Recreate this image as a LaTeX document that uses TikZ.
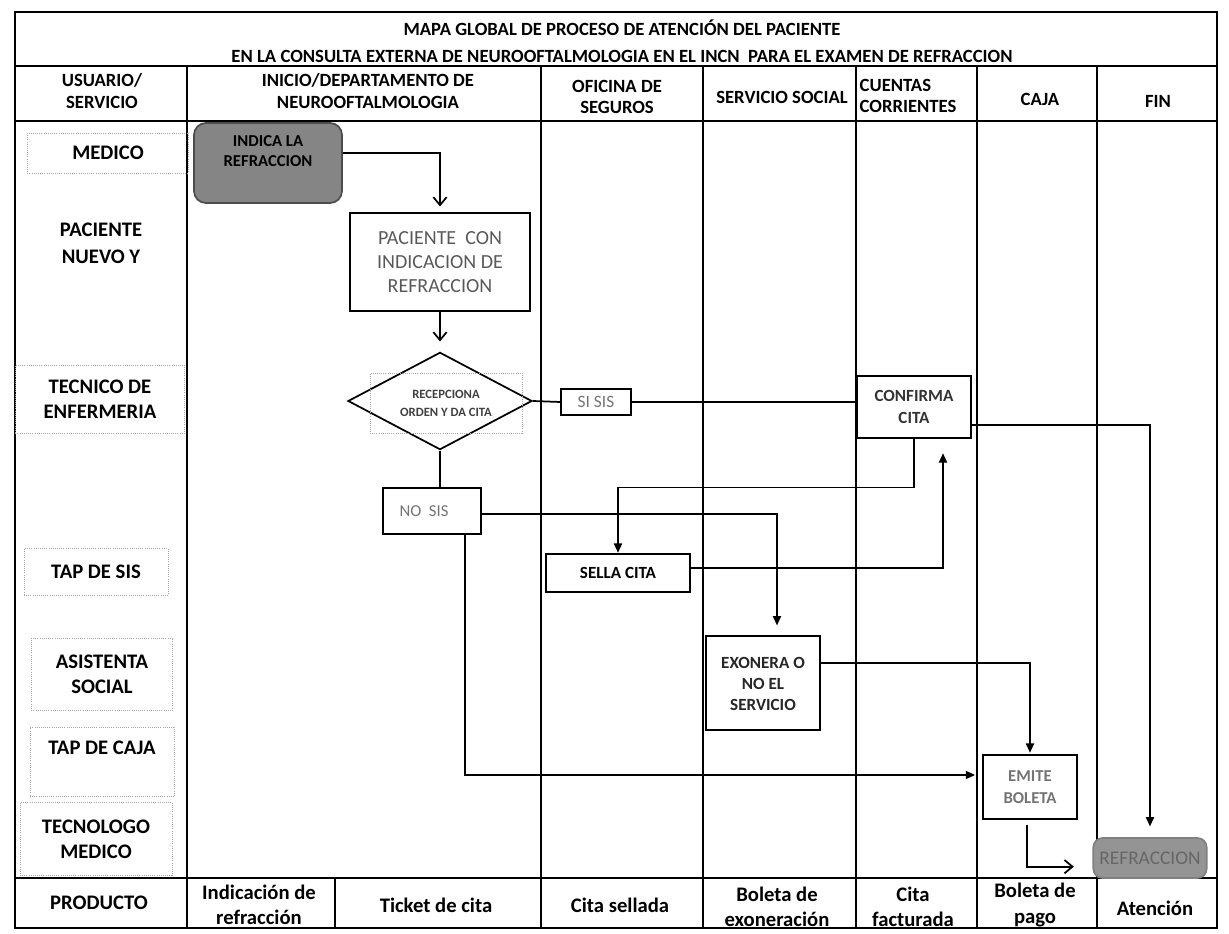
\documentclass[tikz,border=0pt]{standalone}
\usepackage{fontspec}
\setmainfont{Carlito}
\usetikzlibrary{positioning, arrows.meta, shapes.geometric}

\begin{document}
\begin{tikzpicture}[x=0.75pt, y=-0.75pt,
    lane/.style={line width=1.6pt},
    flow/.style={line width=1.3pt},
    filltip/.style={-{Triangle[length=7pt, width=6pt]}},
    opentip/.style={-{Straight Barb[length=6pt, width=10pt]}},
    head/.style={font=\fontsize{14}{16}\selectfont\bfseries, align=center},
    actor/.style={draw=gray!70, densely dotted, line width=0.6pt,
      font=\fontsize{15.5}{19}\selectfont\bfseries, align=center},
    task/.style={rectangle, draw, line width=1.3pt, align=center,
      font=\fontsize{12.8}{16}\selectfont\bfseries},
    prod/.style={font=\fontsize{15.5}{19}\selectfont\bfseries, align=center}]

  \useasboundingbox (0,0) rectangle (1229,934);

  % frame and lanes
  \draw[lane] (15,12) rectangle (1217,928);
  \draw[lane] (15,66) -- (1217,66);
  \draw[lane] (15,121) -- (1217,121);
  \draw[lane] (15,878) -- (1217,878);
  \foreach \lx in {187,541,703,856,977,1097}
    \draw[lane] (\lx,66) -- (\lx,928);
  \draw[lane] (335,878) -- (335,928);

  % title and lane heads
  \node[head, font=\fontsize{14}{20.25}\selectfont\bfseries] (titulo) at (622,41)
  {MAPA GLOBAL DE PROCESO DE ATENCIÓN DEL PACIENTE\\
   EN LA CONSULTA EXTERNA DE NEUROOFTALMOLOGIA EN EL INCN\ \ PARA EL EXAMEN DE REFRACCION};

  \node[head] (usuario) at (102,91) {USUARIO/\\SERVICIO};
  \node[head] (inicio) at (368,91) {INICIO/DEPARTAMENTO DE\\NEUROOFTALMOLOGIA};
  \node[head] (seguros) at (617,97) {OFICINA DE\\SEGUROS};
  \node[head] (social) at (782,97) {SERVICIO SOCIAL};
  \node[head, align=left, anchor=west] (cuentas) at (855,96) {CUENTAS\\CORRIENTES};
  \node[head] (caja) at (1040,99) {CAJA};
  \node[head] (fin) at (1158,101) {FIN};

  % users
  \node[actor, minimum width=121pt, minimum height=30pt] (medico) at (108,153) {MEDICO};
  \node[font=\fontsize{15.5}{20}\selectfont\bfseries, align=center] (nuevo) at (101,243)
  {PACIENTE\\NUEVO Y};
  \node[actor, minimum width=127pt, minimum height=51pt] (tecnico) at (100,399)
  {TECNICO DE\\ENFERMERIA};
  \node[actor, minimum width=108pt, minimum height=35pt] (tapsis) at (96,572) {TAP DE SIS};
  \node[actor, minimum width=106pt, minimum height=54pt] (asistenta) at (102,674)
  {ASISTENTA\\SOCIAL};
  \node[actor, minimum width=108pt, minimum height=52pt] (tapcaja) at (102,762)
  {\begin{tabular}{c} TAP DE CAJA \\ \phantom{X} \end{tabular}};
  \node[actor, minimum width=114pt, minimum height=55pt] (tecnologo) at (96,839)
  {TECNOLOGO\\MEDICO};

  % process
  \node[task, fill=black!48, draw=black!70, rounded corners=9pt,
        minimum width=111pt, minimum height=60pt,
        font=\fontsize{12.5}{15}\selectfont\bfseries] (indica) at (268,163)
  {\begin{tabular}{c} INDICA LA \\ REFRACCION \\ \phantom{X} \end{tabular}};

  \node[task, minimum width=135pt, minimum height=73pt, text=black!65,
        font=\fontsize{15}{18}\selectfont] (paciente) at (440,262)
  {PACIENTE\ \ CON\\INDICACION DE\\REFRACCION};

  \node[diamond, draw, line width=1.3pt, minimum width=138pt, minimum height=73pt,
        inner sep=0pt] (recep) at (440,401) {};
  \node[draw=gray!70, densely dotted, line width=0.6pt, minimum width=114pt,
        minimum height=45pt, align=center, text=black!75,
        font=\fontsize{9.5}{13.5}\selectfont\bfseries] (recepcion) at (446,403)
  {RECEPCIONA\\ORDEN Y DA CITA};

  \node[task, minimum width=52pt, minimum height=20pt, text=black!55,
        font=\fontsize{13}{14}\selectfont] (sisis) at (596,402) {SI SIS};

  \node[task, minimum width=86pt, minimum height=46pt, text=black!80] (confirma) at (914,407)
  {CONFIRMA\\CITA};

  \node[task, minimum width=74pt, minimum height=35pt, text=black!55,
        font=\fontsize{12.5}{14}\selectfont] (nosis) at (432,511)
  {NO\ \ SIS\hspace{12pt}};

  \node[task, minimum width=108pt, minimum height=29pt] (sella) at (618,573) {SELLA CITA};

  \node[task, minimum width=85.5pt, minimum height=70pt, text=black!85,
        font=\fontsize{12.8}{15.75}\selectfont\bfseries] (exonera) at (763,683)
  {\begin{tabular}{c} EXONERA O \\ NO EL \\ SERVICIO \\[-4pt] \end{tabular}};

  \node[task, minimum width=71pt, minimum height=48pt, text=black!55,
        font=\fontsize{12.5}{16}\selectfont\bfseries] (emite) at (1030,787)
  {EMITE\\BOLETA};

  \node[task, fill=black!42, draw=black!50, rounded corners=7pt, minimum width=85pt,
        minimum height=30pt, text=black!60, font=\fontsize{14.5}{15}\selectfont]
  (refraccion) at (1150,858) {REFRACCION};

  % connectors
  \draw[flow, opentip, shorten >=4.5pt] ([yshift=7.5pt]indica.east) -| (paciente.north);
  \draw[flow, opentip, shorten >=7.5pt] (paciente.south) -- (recep.north);
  \draw[flow] (recep.east) -- (sisis.west);
  \draw[flow] (sisis.east) -- (sisis.east -| confirma.west);
  \draw[flow] (recep.south) -- (recep.south |- nosis.north);
  \draw[flow, filltip, shorten >=7.5pt] ([yshift=-2pt]nosis.east) -| ([xshift=10.5pt]exonera.north);
  \draw[flow, filltip, shorten >=5pt] ([xshift=24.75pt]nosis.south) |- ([yshift=9pt]emite.west);
  \draw[flow, filltip] (confirma.south) -- ++(0,49) -| (sella.north);
  \draw[flow, filltip, shorten >=11pt] ([yshift=3.75pt]sella.east) -| ([xshift=21.75pt]confirma.south);
  \draw[flow, filltip, shorten >=1pt] ([yshift=15pt]exonera.east) -| (emite.north);
  \draw[flow, opentip, shorten <=4pt, shorten >=14pt] ([xshift=-2pt]emite.south) |- ([yshift=-6.5pt]refraccion.west);
  \draw[flow, filltip, shorten >=8pt] ([yshift=-13.5pt]confirma.east) -| (refraccion.north);

  % products
  \node[prod] (producto) at (99,903) {PRODUCTO};
  \node[prod] (pindica) at (259,905) {Indicación de\\refracción};
  \node[prod] (pticket) at (436,905) {Ticket de cita};
  \node[prod] (psella) at (620,905) {Cita sellada};
  \node[prod] (pexonera) at (777,907) {Boleta de\\exoneración};
  \node[prod] (pfactura) at (913,907) {Cita\\facturada};
  \node[prod] (ppago) at (1035,905) {Boleta de\\pago};
  \node[prod] (patencion) at (1155,908) {Atención};
\end{tikzpicture}
\end{document}
